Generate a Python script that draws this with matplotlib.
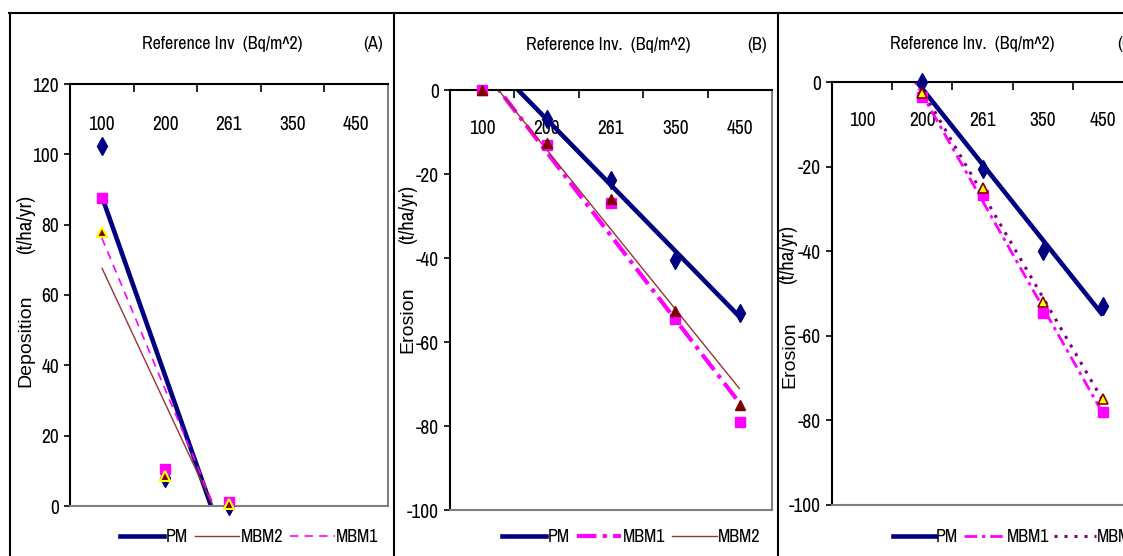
import numpy as np
import matplotlib
matplotlib.use('Agg')
import matplotlib.pyplot as plt
from matplotlib.lines import Line2D
from matplotlib import font_manager

# ---------------- data ----------------
categories = ['100', '200', '261', '350', '450']

# Panel A: Deposition (t/ha/yr)
dep_pm = [102.5, 8.0, 0.0, np.nan, np.nan]
dep_mbm1 = [87.5, 10.5, 1.0, np.nan, np.nan]
dep_mbm2 = [78.0, 8.5, 0.5, np.nan, np.nan]

# Panel B: Erosion (t/ha/yr)
ero_b_pm = [np.nan, -7.0, -21.5, -40.5, -53.0]
ero_b_mbm1 = [0.0, -13.0, -27.0, -54.5, -79.0]
ero_b_mbm2 = [0.0, -12.5, -26.0, -52.5, -75.0]

# Panel C: Erosion (t/ha/yr)
ero_c_pm = [np.nan, 0.0, -20.5, -40.0, -53.0]
ero_c_mbm1 = [np.nan, -3.5, -26.7, -54.5, -78.0]
ero_c_mbm2 = [np.nan, -2.5, -25.0, -52.0, -75.0]

# ---------------- style ----------------
plt.rcParams['lines.scale_dashes'] = False
names = {f.name for f in font_manager.fontManager.ttflist}
NARROW = 'Liberation Sans'
for cand in ('Liberation Sans Narrow', 'Arial Narrow', 'Archivo Narrow', 'Roboto Condensed', 'Barlow Condensed'):
    if cand in names:
        NARROW = cand
        break
WIDE = 'Liberation Sans' if 'Liberation Sans' in names else 'DejaVu Sans'

NAVY = '#000080'
MAG = '#FF00FF'
MAROON = '#993333'
DKRED = '#800000'
PURPLE = '#800080'
GRAY = '#808080'

W, H = 1123, 556
fig = plt.figure(figsize=(W / 100, H / 100), dpi=100)
xpos = np.arange(1, len(categories) + 1)


def fx(x):
    return x / W


def fy(y):
    return 1 - y / H


def pt(p):
    return p * 0.72


def setup(box, ylim, ystep, label_off):
    left, top, right, bottom = box
    ax = fig.add_axes([fx(left), fy(bottom), (right - left) / W, (bottom - top) / H])
    ax.set_xlim(0.5, len(categories) + 0.5)
    ax.set_ylim(*ylim)
    yt = np.arange(ylim[0], ylim[1] + ystep / 2, ystep)
    ax.set_yticks(yt)
    ax.set_yticklabels([f'{int(v)}' for v in yt], family=NARROW, fontsize=14)
    ax.xaxis.set_ticks_position('top')
    ax.set_xticks(xpos)
    ax.set_xticklabels(categories, family=NARROW, fontsize=14)
    ax.set_xticks(np.arange(1.5, len(categories) + 0.6, 1), minor=True)
    ax.tick_params(axis='x', which='major', length=0, pad=-pt(label_off))
    ax.tick_params(axis='x', which='minor', length=pt(8), width=1.2, direction='in', color='black')
    ax.tick_params(axis='y', which='major', length=pt(6), width=1.2, direction='out', pad=pt(5))
    for s in ('top', 'left'):
        ax.spines[s].set_color('black')
        ax.spines[s].set_linewidth(1.5)
    for s in ('right', 'bottom'):
        ax.spines[s].set_color(GRAY)
        ax.spines[s].set_linewidth(1.5)
    return ax


def markers(ax, y, marker, ms, fc, ec, mew, z=3):
    ax.plot(xpos, y, linestyle='none', marker=marker, markersize=ms,
            markerfacecolor=fc, markeredgecolor=ec, markeredgewidth=mew,
            clip_on=False, zorder=z)


def trend(ax, y, **kw):
    y = np.asarray(y, float)
    m = ~np.isnan(y)
    k, b = np.polyfit(xpos[m], y[m], 1)
    xs = np.array([1.0, float(xpos[m].max())])
    ax.plot(xs, k * xs + b, zorder=2.2, solid_capstyle='butt', dash_capstyle='butt', **kw)


def legend(ax, handles, labels, x0, yc, hl=2.45, cs=0.4):
    ax.legend(handles, labels, loc='center left', bbox_to_anchor=(fx(x0), fy(yc)),
              bbox_transform=fig.transFigure, ncol=3, frameon=False,
              prop={'family': NARROW, 'size': 13}, handlelength=hl,
              handletextpad=0.08, columnspacing=cs, borderpad=0, borderaxespad=0)


# styles
pm_style = dict(color=NAVY, lw=3.3)
a_mbm2_style = dict(color=MAROON, lw=1.0)
a_mbm1_style = dict(color=MAG, lw=1.2, linestyle=(0, (6, 4.5)))
b_mbm1_style = dict(color=MAG, lw=3.0, linestyle=(0, (14, 4.5, 3, 4.5)))
b_mbm2_style = dict(color=MAROON, lw=1.0)
c_mbm1_style = dict(color=MAG, lw=2.0, linestyle=(0, (9, 3.5, 2.5, 3.5)))
c_mbm2_style = dict(color=PURPLE, lw=2.2, linestyle=(0, (2.2, 5)))

# ---------------- Panel A ----------------
axA = setup((70, 84, 388, 506), (0, 120), 20, 50)
markers(axA, dep_pm, 'd', 9, NAVY, NAVY, 1, z=2.6)
markers(axA, dep_mbm1, 's', 6.5, MAG, MAG, 1)
markers(axA, dep_mbm2, '^', 7, DKRED, 'yellow', 1.5, z=4)
trend(axA, dep_pm, **pm_style)
trend(axA, dep_mbm2, **a_mbm2_style)
trend(axA, dep_mbm1, **a_mbm1_style)
legend(axA, [Line2D([], [], **pm_style), Line2D([], [], **a_mbm2_style), Line2D([], [], **a_mbm1_style)],
       ['PM', 'MBM2', 'MBM1'], 120, 537)

# ---------------- Panel B ----------------
axB = setup((450, 90, 772, 510), (-100, 0), 20, 48)
markers(axB, ero_b_pm, 'd', 9, NAVY, NAVY, 1, z=2.6)
markers(axB, ero_b_mbm1, 's', 6.5, MAG, MAG, 1)
markers(axB, ero_b_mbm2, '^', 7, DKRED, DKRED, 1, z=4)
trend(axB, ero_b_pm, **pm_style)
trend(axB, ero_b_mbm1, **b_mbm1_style)
trend(axB, ero_b_mbm2, **b_mbm2_style)
legend(axB, [Line2D([], [], **pm_style), Line2D([], [], **b_mbm1_style), Line2D([], [], **b_mbm2_style)],
       ['PM', 'MBM1', 'MBM2'], 502, 537)

# ---------------- Panel C ----------------
axC = setup((832, 82, 1133, 505), (-100, 0), 20, 48)
markers(axC, ero_c_pm, 'd', 9, NAVY, NAVY, 1, z=2.6)
markers(axC, ero_c_mbm1, 's', 6.5, MAG, MAG, 1)
markers(axC, ero_c_mbm2, '^', 7, 'yellow', DKRED, 1.2, z=4)
trend(axC, ero_c_pm, **pm_style)
trend(axC, ero_c_mbm1, **c_mbm1_style)
trend(axC, ero_c_mbm2, **c_mbm2_style)
legend(axC, [Line2D([], [], **pm_style), Line2D([], [], **c_mbm1_style), Line2D([], [], **c_mbm2_style)],
       ['PM', 'MBM1', 'MBM2'], 893, 537, hl=2.3, cs=0.3)

# ---------------- titles & labels ----------------
tkw = dict(ha='center', va='center', family=NARROW, fontsize=13)
fig.text(fx(222), fy(44), 'Reference Inv  (Bq/m^2)', **tkw)
fig.text(fx(373), fy(44), '(A)', **tkw)
fig.text(fx(608), fy(45), 'Reference Inv.  (Bq/m^2)', **tkw)
fig.text(fx(757), fy(45), '(B)', **tkw)
fig.text(fx(972), fy(44), 'Reference Inv.  (Bq/m^2)', **tkw)
fig.text(fx(1127), fy(44), '(C)', **tkw)

lkw = dict(ha='center', va='center', rotation=90, family=WIDE, fontsize=14)
nkw = dict(ha='center', va='center', rotation=90, family=NARROW, fontsize=15)
fig.text(fx(26), fy(341), 'Deposition', **lkw)
fig.text(fx(26), fy(225), '(t/ha/yr)', **nkw)
fig.text(fx(408), fy(320), 'Erosion', **lkw)
fig.text(fx(408), fy(215), '(t/ha/yr)', **nkw)
fig.text(fx(790), fy(355), 'Erosion', **lkw)
fig.text(fx(788), fy(255), '(t/ha/yr)', **nkw)

# ---------------- chart borders ----------------
bkw = dict(color='black', lw=1.5, transform=fig.transFigure)
fig.add_artist(Line2D([fx(9), 1.0], [fy(12.5), fy(12.5)], **bkw))
for xv in (9.5, 393.5, 777.5):
    fig.add_artist(Line2D([fx(xv), fx(xv)], [fy(12.5), 0.0], **bkw))

fig.savefig('out.png', dpi=100, facecolor='white')
